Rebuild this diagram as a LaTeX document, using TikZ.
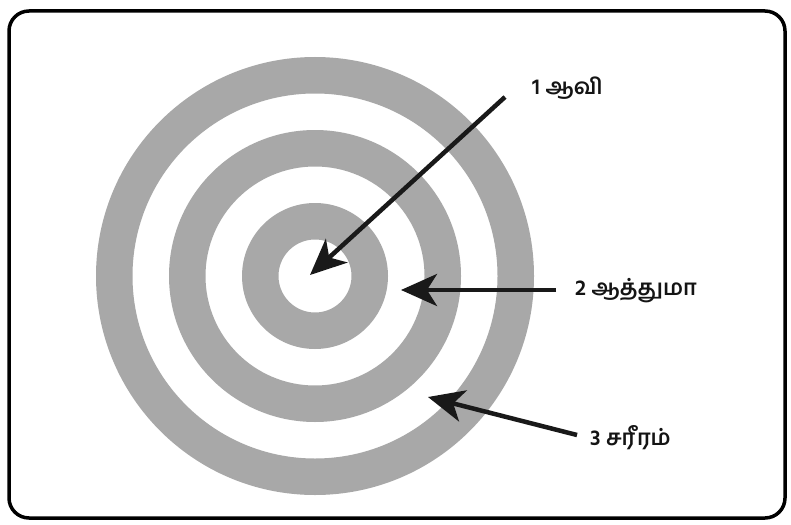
\documentclass[tikz,border=0pt]{standalone}
\usepackage{fontspec}
\newfontfamily\tamilfont[Script=Tamil]{Hind Madurai}
\usetikzlibrary{arrows.meta}
\definecolor{ringgray}{RGB}{168,168,168}
\begin{document}
\begin{tikzpicture}[x=1pt,y=-1pt,
  ringband/.style={fill=ringgray, even odd rule},
  pointer/.style={line width=4.5pt, draw={rgb,255:red,25;green,25;blue,25}, -{Stealth[length=36pt,width=32pt,inset=10pt]}},
  lbl/.style={font=\tamilfont\bfseries\fontsize{22}{26}\selectfont, text={rgb,255:red,20;green,20;blue,20}, anchor=west, inner sep=0pt}]
\useasboundingbox (0,0) rectangle (791,524);
\fill[white] (0,0) rectangle (791,524);
\draw[line width=3.5pt, rounded corners=20pt] (9,11) rectangle (785,518);
\coordinate (c) at (315,276);
\fill[ringband] (c) circle[radius=219] (c) circle[radius=182.5];
\fill[ringband] (c) circle[radius=146] (c) circle[radius=109.5];
\fill[ringband] (c) circle[radius=73] (c) circle[radius=36.5];
\node[lbl] (l1) at (532,88) {1 ஆவி};
\node[lbl] (l2) at (575,291) {2 ஆத்துமா};
\node[lbl] (l3) at (590,438) {3 சரீரம்};
\coordinate (t1) at (505,97);
\coordinate (h1) at (310,275);
\coordinate (t2) at (556,290);
\coordinate (h2) at (401,290);
\coordinate (t3) at (577,435);
\coordinate (h3) at (428,397);
\draw[pointer] (t1) -- (h1);
\draw[pointer] (t2) -- (h2);
\draw[pointer] (t3) -- (h3);
\end{tikzpicture}
\end{document}
